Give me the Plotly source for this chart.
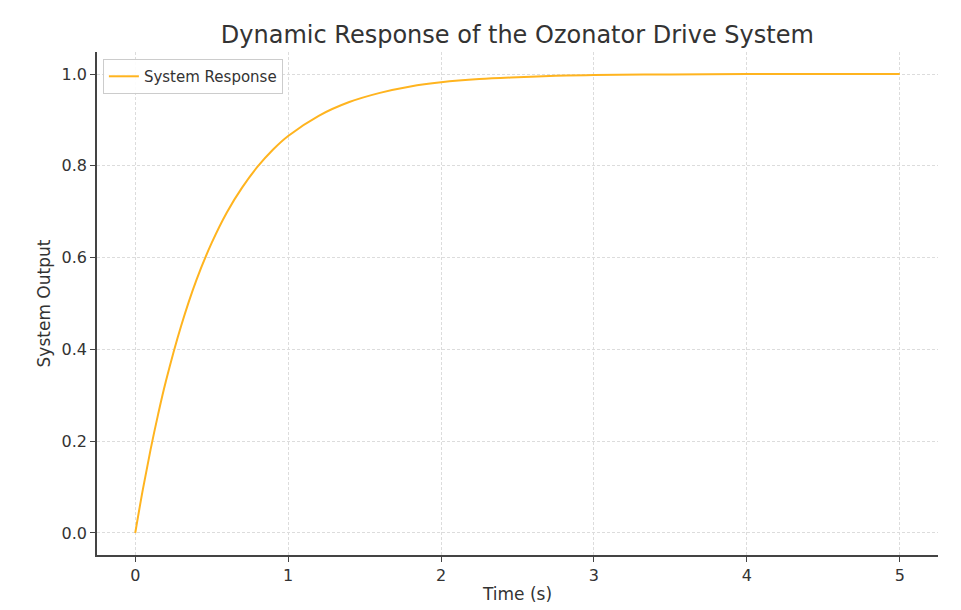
import plotly.graph_objects as go

time_s = [0, 0.05, 0.1, 0.15, 0.2, 0.3, 0.4, 0.5, 0.6, 0.7, 0.8, 0.9, 1.0, 1.2, 1.4, 1.6, 1.8, 2.0,
          2.25, 2.5, 2.75, 3.0, 3.5, 4.0, 4.5, 5.0]
system_output = [0.0, 0.095, 0.181, 0.259, 0.330, 0.451, 0.551, 0.632, 0.699, 0.753, 0.798, 0.835,
                 0.865, 0.909, 0.939, 0.959, 0.973, 0.982, 0.989, 0.993, 0.996, 0.998, 0.999,
                 1.0, 1.0, 1.0]
x_ticks = [0, 1, 2, 3, 4, 5]
y_ticks = [0.0, 0.2, 0.4, 0.6, 0.8, 1.0]

fig = go.Figure()
fig.add_trace(go.Scatter(
    x=time_s, y=system_output, mode="lines", name="System Response",
    line=dict(color="#FFB41F", width=2, shape="spline"),
))

font = "DejaVu Sans, sans-serif"
axis_common = dict(
    showgrid=True, gridcolor="#dcdcdc", griddash="3px,2px", gridwidth=1,
    zeroline=False, showline=True, linecolor="#444444", linewidth=1.5,
    ticks="outside", ticklen=5, tickcolor="#444444", mirror=False,
    tickfont=dict(size=16, color="#333333", family=font),
)
fig.update_layout(
    width=961, height=610,
    paper_bgcolor="white", plot_bgcolor="white",
    margin=dict(l=89, r=31, t=44, b=63),
    title=dict(text="Dynamic Response of the Ozonator Drive System", x=0.53, xanchor="center",
               y=0.956, yanchor="middle",
               font=dict(size=24, color="#333333", family=font)),
    font=dict(family=font, color="#333333"),
    showlegend=True,
    legend=dict(x=0.007, y=0.986, xanchor="left", yanchor="top",
                bgcolor="rgba(255,255,255,0.9)", bordercolor="#cccccc", borderwidth=1,
                font=dict(size=15, color="#333333", family=font)),
)
fig.update_xaxes(range=[-0.25, 5.25], tickvals=x_ticks, ticktext=[str(v) for v in x_ticks],
                 title=dict(text="Time (s)", font=dict(size=17, color="#333333", family=font), standoff=4),
                 **axis_common)
fig.update_yaxes(range=[-0.048, 1.048], tickvals=y_ticks, ticktext=[f"{v:.1f}" for v in y_ticks],
                 title=dict(text="System Output", font=dict(size=17, color="#333333", family=font), standoff=7),
                 **axis_common)

fig.write_html("out.html")
